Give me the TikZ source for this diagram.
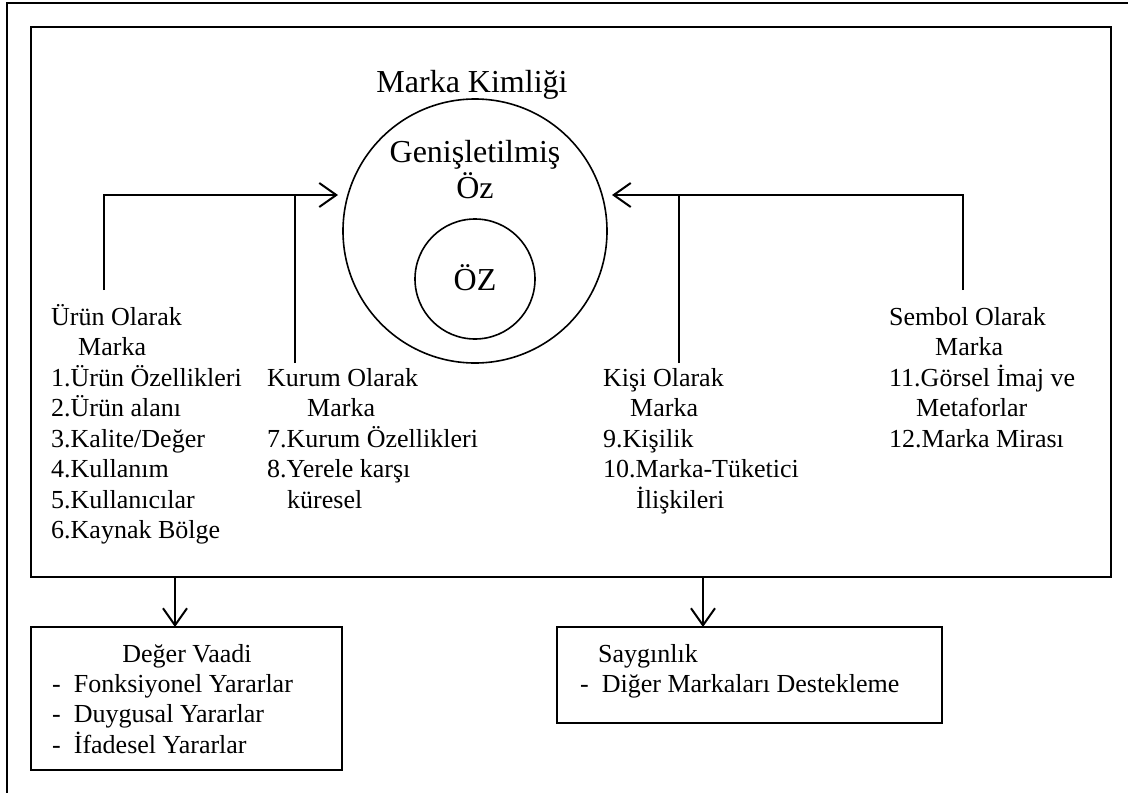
\documentclass[tikz,border=0pt]{standalone}
\usepackage{fontspec}
\setmainfont{Liberation Serif}
\usetikzlibrary{arrows.meta}
\begin{document}
\begin{tikzpicture}[x=1pt,y=-1pt,
  frame/.style={line width=2pt},
  conn/.style={line width=2pt},
  ring/.style={circle,draw,line width=1.6pt,inner sep=0pt},
  arrowtip/.style={-{Straight Barb[length=17pt,width=24pt]}},
  boxnode/.style={draw,frame,anchor=north west,inner sep=0pt,outer sep=0pt},
  big/.style={inner sep=0pt,anchor=base,font=\fontsize{32}{36}\selectfont},
  txt/.style={inner sep=0pt,anchor=base west,font=\fontsize{26}{30.5}\selectfont},
  boxtxt/.style={inner sep=0pt,anchor=base west,font=\fontsize{26}{30.5}\selectfont}]
\useasboundingbox (0,0) rectangle (1128,793);

% outer frame (only its top and left edges fall on the page)
\draw[frame] (7,793) -- (7,3) -- (1128,3);

% brand identity panel
\node[boxnode,minimum width=1080pt,minimum height=550pt] (identity) at (31,27) {};

\node[big] (title) at (472,92) {Marka Kimliği};

% extended core and core
\node[ring,minimum size=264pt] (extended) at (475,231) {};
\node[ring,minimum size=120pt] (core) at (475,279) {};
\node[big] (extT1) at (475,162) {Genişletilmiş};
\node[big] (extT2) at (475,198) {Öz};
\node[big] (coreT) at (475,290) {ÖZ};

% four perspectives
\node[txt] (product) at (51,325) {\begin{tabular}[t]{@{}l@{}}
Ürün Olarak\\
\hspace*{27pt}Marka\\
1.Ürün Özellikleri\\
2.Ürün alanı\\
3.Kalite/Değer\\
4.Kullanım\\
5.Kullanıcılar\\
6.Kaynak Bölge\end{tabular}};

\node[txt] (organization) at (267,386) {\begin{tabular}[t]{@{}l@{}}
Kurum Olarak\\
\hspace*{40pt}Marka\\
7.Kurum Özellikleri\\
8.Yerele karşı\\
\hspace*{20pt}küresel\end{tabular}};

\node[txt] (person) at (603,386) {\begin{tabular}[t]{@{}l@{}}
Kişi Olarak\\
\hspace*{27pt}Marka\\
9.Kişilik\\
10.Marka-Tüketici\\
\hspace*{33pt}İlişkileri\end{tabular}};

\node[txt] (symbol) at (889,325) {\begin{tabular}[t]{@{}l@{}}
Sembol Olarak\\
\hspace*{46pt}Marka\\
11.Görsel İmaj ve\\
\hspace*{27pt}Metaforlar\\
12.Marka Mirası\end{tabular}};

% connector ends
\coordinate (leftTip) at (338,195);
\coordinate (rightTip) at (612,195);
\coordinate (productTop) at (104,290);
\coordinate (orgTop) at (295,363);
\coordinate (personTop) at (679,363);
\coordinate (symbolTop) at (963,290);

\draw[conn,arrowtip] (productTop) |- (leftTip);
\draw[conn] (orgTop) -- (orgTop |- leftTip);
\draw[conn,arrowtip] (symbolTop) |- (rightTip);
\draw[conn] (personTop) -- (personTop |- rightTip);

% outcome boxes
\node[boxnode,minimum width=311pt,minimum height=143pt] (value) at (31,627) {};
\node[boxnode,minimum width=385pt,minimum height=96pt] (esteem) at (557,627) {};

\node[boxtxt,anchor=base] (valueT) at (187,662) {Değer Vaadi};
\node[boxtxt] (valueL) at (52,692) {\begin{tabular}[t]{@{}l@{\hspace{13pt}}l@{}}
-&Fonksiyonel Yararlar\\
-&Duygusal Yararlar\\
-&İfadesel Yararlar\end{tabular}};

\node[boxtxt] (esteemT) at (598,662) {Saygınlık};
\node[boxtxt] (esteemL) at (580,692) {\begin{tabular}[t]{@{}l@{\hspace{13pt}}l@{}}
-&Diğer Markaları Destekleme\end{tabular}};

\coordinate (valueX) at (175,0);
\coordinate (esteemX) at (703,0);
\draw[conn,arrowtip] (identity.south -| valueX) -- (value.north -| valueX);
\draw[conn,arrowtip] (identity.south -| esteemX) -- (esteem.north -| esteemX);
\end{tikzpicture}
\end{document}
